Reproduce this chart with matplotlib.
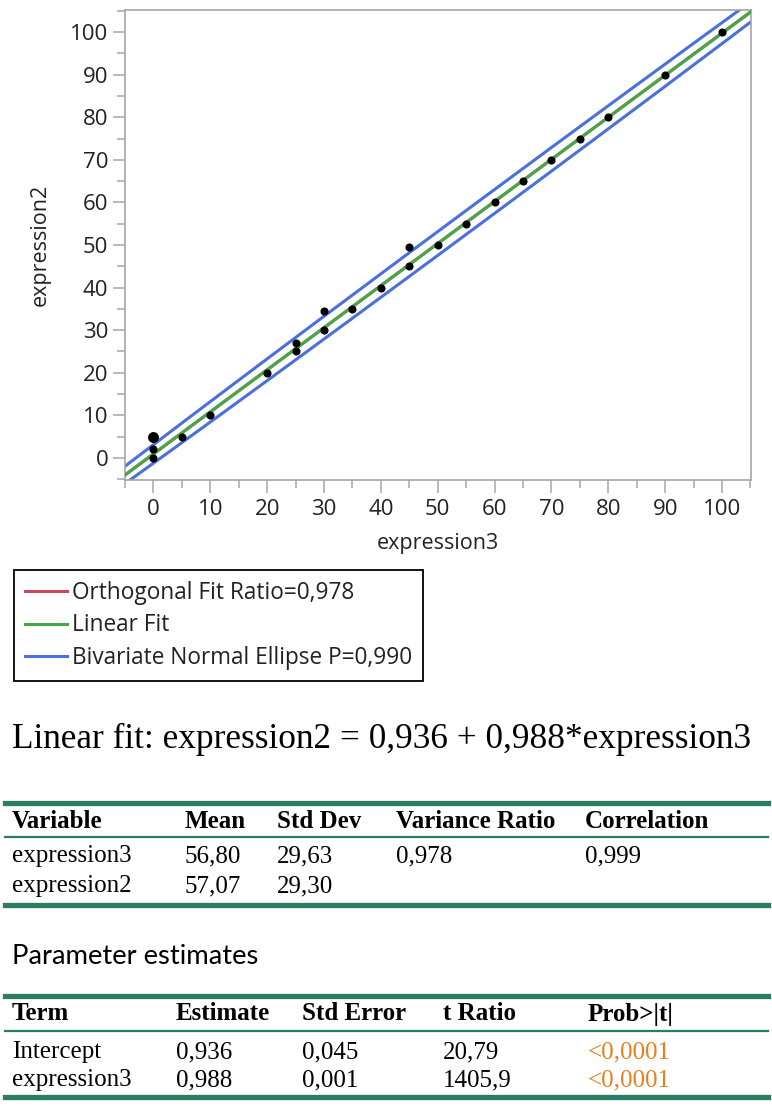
import numpy as np
import matplotlib.pyplot as plt
from matplotlib.lines import Line2D
from matplotlib.ticker import MultipleLocator

# --- data ---
expr3 = [0, 0, 5, 10, 20, 25, 25, 30, 30, 35, 40, 45, 45, 50, 55, 60, 65, 70, 75, 80, 90, 100]
expr2 = [0, 2, 5, 10, 20, 25, 27, 30, 34.5, 35, 40, 45, 49.5, 50, 55, 60, 65, 70, 75, 80, 90, 100]
big_x = [0]
big_y = [5]

intercept = 0.936
slope = 0.988
mean3, mean2 = 56.80, 57.07
sd3, sd2 = 29.63, 29.30
var_ratio = 0.978
corr = 0.9995
ellipse_p = 0.990

stats_header = ["Variable", "Mean", "Std Dev", "Variance Ratio", "Correlation"]
stats_rows = [["expression3", "56,80", "29,63", "0,978", "0,999"],
              ["expression2", "57,07", "29,30", "", ""]]
param_header = ["Term", "Estimate", "Std Error", "t Ratio", "Prob>|t|"]
param_rows = [["Intercept", "0,936", "0,045", "20,79", "<0,0001"],
              ["expression3", "0,988", "0,001", "1405,9", "<0,0001"]]

RED = "#c84a5a"
GREEN = "#45a845"
BLUE = "#4a70dc"
RULE = "#2a7c62"
ORANGE = "#e8801e"
SANS = ["Open Sans", "DejaVu Sans"]
SERIF = ["Liberation Serif", "DejaVu Serif"]

W, H = 772, 1115
fig = plt.figure(figsize=(W / 100, H / 100), dpi=100)


def fy(y):
    return 1 - y / H


def fx(x):
    return x / W


ax = fig.add_axes([fx(125), fy(480), fx(751) - fx(125), fy(10) - fy(480)])

# orthogonal fit (Deming, ratio = variance ratio)
sxx, syy, sxy = sd3 ** 2, sd2 ** 2, corr * sd3 * sd2
b_orth = (syy - var_ratio * sxx + np.sqrt((syy - var_ratio * sxx) ** 2 + 4 * var_ratio * sxy ** 2)) / (2 * sxy)
a_orth = mean2 - b_orth * mean3
xx = np.array([-10, 110])
ax.plot(xx, a_orth + b_orth * xx, color=RED, lw=2.2, zorder=2)
ax.plot(xx, intercept + slope * xx, color=GREEN, lw=2.2, zorder=3)

# bivariate normal ellipse
cov = np.array([[sxx, sxy], [sxy, syy]])
L = np.linalg.cholesky(cov)
c = np.sqrt(-2 * np.log(1 - ellipse_p))
t = np.linspace(0, 2 * np.pi, 2000)
pts = c * L @ np.vstack([np.cos(t), np.sin(t)])
ax.plot(mean3 + pts[0], mean2 + pts[1], color=BLUE, lw=2.2, zorder=2)

ax.scatter(expr3, expr2, s=34, color="black", zorder=4, linewidths=0)
ax.scatter(big_x, big_y, s=62, color="black", zorder=4, linewidths=0)

ax.set_xlim(-5, 105.1)
ax.set_ylim(-5.2, 105.2)
for axis in (ax.xaxis, ax.yaxis):
    axis.set_major_locator(MultipleLocator(10))
    axis.set_minor_locator(MultipleLocator(5))
ax.tick_params(which="major", direction="out", length=9, width=1.1, color="#a6a6a6",
               labelsize=16, labelcolor="#222222", pad=3)
ax.tick_params(axis="x", which="major", pad=5)
ax.tick_params(which="minor", direction="out", length=5.5, width=1.1, color="#a6a6a6")
for lab in ax.get_xticklabels() + ax.get_yticklabels():
    lab.set_family(SANS)
for sp in ax.spines.values():
    sp.set_color("#a6a6a6")
    sp.set_linewidth(1.2)
ax.set_xlabel("expression3", fontsize=15.5, family=SANS, color="#222222", labelpad=9)
ax.set_ylabel("expression2", fontsize=15.5, family=SANS, color="#222222", labelpad=14)

# legend
handles = [Line2D([], [], color=RED, lw=2.2), Line2D([], [], color=GREEN, lw=2.2),
           Line2D([], [], color=BLUE, lw=2.2)]
labels = ["Orthogonal Fit Ratio=0,978", "Linear Fit", "Bivariate Normal Ellipse P=0,990"]
leg = fig.legend(handles, labels, loc="upper left", bbox_to_anchor=(fx(14), fy(570)),
                 bbox_transform=fig.transFigure, frameon=True, fancybox=False,
                 edgecolor="black", framealpha=1, borderaxespad=0, borderpad=0.5,
                 handlelength=1.85, handletextpad=0.2, labelspacing=0.36,
                 prop={"family": SANS, "size": 16.3})
leg.get_frame().set_linewidth(1.3)
for txt in leg.get_texts():
    txt.set_color("#222222")

# linear fit equation
fig.text(fx(12), fy(748), "Linear fit: expression2 = 0,936 + 0,988*expression3",
         family=SERIF, fontsize=25.4, va="baseline", ha="left", color="black")


def rule(y, lw):
    fig.add_artist(Line2D([fx(5), fx(768)], [fy(y), fy(y)], color=RULE, lw=lw,
                          transform=fig.transFigure))


def table(header, rows, cols, top, head_y, thin_y, row_ys, bottom, colors=None):
    rule(top, 3.8)
    rule(thin_y, 1.6)
    rule(bottom, 3.8)
    for x, h in zip(cols, header):
        fig.text(fx(x), fy(head_y), h, family=SERIF, fontsize=18, weight="bold",
                 va="center", ha="left")
    for y, row in zip(row_ys, rows):
        for j, (x, v) in enumerate(zip(cols, row)):
            col = colors[j] if colors else "black"
            fig.text(fx(x), fy(y), v, family=SERIF, fontsize=18, va="center",
                     ha="left", color=col)


table(stats_header, stats_rows, [12, 185, 277, 396, 585],
      803, 821, 837, [856, 886], 905)

fig.text(fx(12), fy(957), "Parameter estimates", family=["Lato", "DejaVu Sans"],
         fontsize=19.7, va="center", ha="left", color="black")

table(param_header, param_rows, [12, 176, 302, 443, 588],
      996, 1014, 1031, [1052, 1080], 1097,
      colors=["black", "black", "black", "black", ORANGE])

fig.savefig("out.png", dpi=100)
